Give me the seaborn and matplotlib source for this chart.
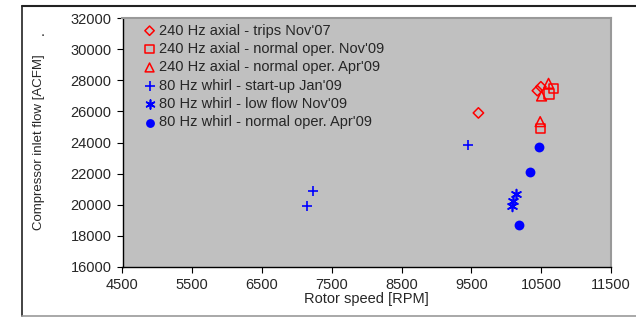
import matplotlib
matplotlib.use("Agg")
import matplotlib.pyplot as plt
import seaborn as sns
from matplotlib.lines import Line2D

# data
trips_nov07_rpm = [9600, 10445, 10495]
trips_nov07_flow = [25900, 27330, 27580]
axial_nov09_rpm = [10675, 10610, 10485]
axial_nov09_flow = [27480, 27110, 24910]
axial_apr09_rpm = [10605, 10505, 10485]
axial_apr09_flow = [27800, 26990, 25340]
startup_jan09_rpm = [7235, 7150, 9455]
startup_jan09_flow = [20880, 19920, 23840]
lowflow_nov09_rpm = [10140, 10090, 10075]
lowflow_nov09_flow = [20670, 20260, 19920]
whirl_apr09_rpm = [10470, 10345, 10180]
whirl_apr09_flow = [23710, 22120, 18720]

x_ticks = [4500, 5500, 6500, 7500, 8500, 9500, 10500, 11500]
y_ticks = [16000, 18000, 20000, 22000, 24000, 26000, 28000, 30000, 32000]

sns.set_style("white")
plt.rcParams['font.family'] = ['Liberation Sans', 'DejaVu Sans']

fig = plt.figure(figsize=(6.36, 3.17), dpi=100)
ax = fig.add_axes([122.5 / 636, 1 - 267 / 317, (611 - 122.5) / 636, (267 - 18) / 317])
ax.set_facecolor('#C0C0C0')

red = '#FF0000'
blue = '#0000FF'

sns.scatterplot(x=trips_nov07_rpm, y=trips_nov07_flow, marker='D', s=28, facecolor='none',
                edgecolor=red, linewidth=1.1, label="240 Hz axial - trips Nov'07", ax=ax)
sns.scatterplot(x=axial_nov09_rpm, y=axial_nov09_flow, marker='s', s=45, facecolor='none',
                edgecolor=red, linewidth=1.1, label="240 Hz axial - normal oper. Nov'09", ax=ax)
sns.scatterplot(x=axial_apr09_rpm, y=axial_apr09_flow, marker='^', s=50, facecolor='none',
                edgecolor=red, linewidth=1.1, label="240 Hz axial - normal oper. Apr'09", ax=ax)
sns.scatterplot(x=startup_jan09_rpm, y=startup_jan09_flow, marker='+', s=55, color=blue,
                linewidth=1.2, label="80 Hz whirl - start-up Jan'09", ax=ax)
sns.scatterplot(x=lowflow_nov09_rpm, y=lowflow_nov09_flow, marker=(6, 2, 0), s=50, color=blue,
                linewidth=1.2, label="80 Hz whirl - low flow Nov'09", ax=ax)
sns.scatterplot(x=whirl_apr09_rpm, y=whirl_apr09_flow, marker='o', s=50, color=blue,
                edgecolor=blue, linewidth=0, label="80 Hz whirl - normal oper. Apr'09", ax=ax)

ax.set_xlim(4500, 11500)
ax.set_ylim(16000, 32000)
ax.set_xticks(x_ticks)
ax.set_yticks(y_ticks)
ax.tick_params(axis='both', direction='out', length=4, width=0.8, color='black',
               labelsize=10.5, pad=4, bottom=True, left=True)
ax.set_xlabel('Rotor speed [RPM]', fontsize=10.5, labelpad=0)
ax.set_ylabel('Compressor inlet flow [ACFM]', fontsize=9.5, labelpad=18)

for side in ['left', 'bottom']:
    ax.spines[side].set_color('black')
    ax.spines[side].set_linewidth(1.0)
for side in ['top', 'right']:
    ax.spines[side].set_color('#999999')
    ax.spines[side].set_linewidth(1.5)

leg = ax.legend(loc='upper left', bbox_to_anchor=(0.03, 1.01), frameon=False, fontsize=10.5,
                handlelength=0.6, handletextpad=0.35, labelspacing=0.3, borderaxespad=0.15,
                markerscale=0.9)

fig.text(40 / 636, 1 - 33 / 317, '.', rotation=90, fontsize=10, ha='center', va='center')

# outer frame lines
fig.add_artist(Line2D([22 / 636, 1.0], [1 - 6 / 317, 1 - 6 / 317], transform=fig.transFigure,
                      color='#222222', linewidth=1.5))
fig.add_artist(Line2D([22 / 636, 22 / 636], [1 - 6 / 317, 1 - 316 / 317], transform=fig.transFigure,
                      color='#222222', linewidth=1.2))
fig.add_artist(Line2D([22 / 636, 1.0], [1 - 316 / 317, 1 - 316 / 317], transform=fig.transFigure,
                      color='#999999', linewidth=1.2))

fig.savefig('out.png', dpi=100)
